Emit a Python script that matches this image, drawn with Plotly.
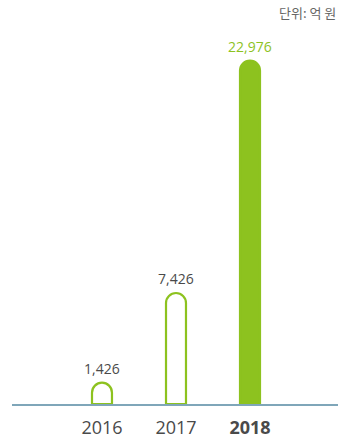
import plotly.graph_objects as go

GREEN = "#8dc21f"
AXIS = "#7fa6b9"
TEXT = "#4a4a4a"

years = ["2016", "2017", "2018"]
year_labels = ["2016", "2017", "<b>2018</b>"]
values = [1426, 7426, 22976]
value_labels = ["1,426", "7,426", "22,976"]
fills = ["#ffffff", "#ffffff", GREEN]
label_colors = [TEXT, TEXT, GREEN]

fig = go.Figure()
fig.add_trace(
    go.Bar(
        x=list(range(len(years))),
        y=values,
        width=0.27,
        marker=dict(color=fills, line=dict(color=GREEN, width=2.2), cornerradius="50%"),
        hoverinfo="skip",
    )
)

# value labels sit a few pixels above each rounded bar top
for i, (v, label, color) in enumerate(zip(values, value_labels, label_colors)):
    fig.add_annotation(
        x=i, y=v, text=label,
        xanchor="center", yanchor="bottom", yshift=3,
        showarrow=False,
        font=dict(family="Open Sans", size=14, color=color),
    )

fig.add_annotation(
    text="단위: 억 원",
    xref="paper", yref="paper", x=1.0, y=1.0,
    xanchor="right", yanchor="bottom", yshift=16,
    showarrow=False,
    font=dict(family="Noto Sans CJK KR", size=13, color="#666666"),
)

fig.update_layout(
    width=351,
    height=440,
    margin=dict(l=12, r=13, t=40, b=36, autoexpand=False),
    paper_bgcolor="white",
    plot_bgcolor="white",
    showlegend=False,
)
fig.update_xaxes(
    range=[-1.216, 3.189],
    tickvals=list(range(len(years))),
    ticktext=year_labels,
    tickfont=dict(family="Open Sans", size=18, color=TEXT),
    showline=True,
    linecolor=AXIS,
    linewidth=2,
    showgrid=False,
    zeroline=False,
    ticks="",
    ticklabelstandoff=6,
    automargin=False,
)
fig.update_yaxes(range=[0, 24350], visible=False, showgrid=False, zeroline=False)

# page body has a default 8px margin; drop it so the figure sits at the window corner
fig.write_html(
    "out.html",
    config={"displayModeBar": False},
    post_script="document.body.style.margin='0';",
)
